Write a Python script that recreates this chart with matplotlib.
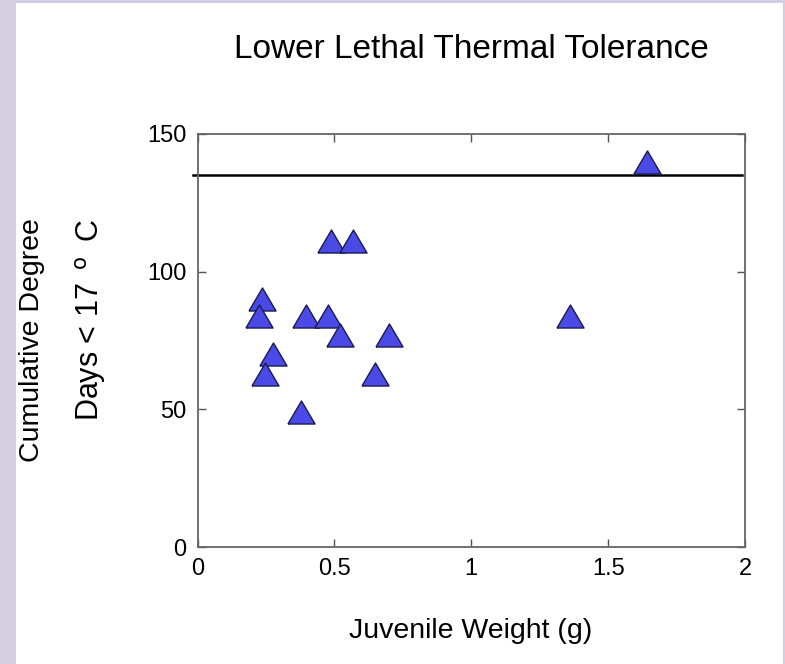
import matplotlib.pyplot as plt
from matplotlib.patches import Rectangle

plt.rcParams['font.family'] = ['Liberation Sans', 'DejaVu Sans']

# juvenile weight (g) and cumulative degree days below 17 C
weight = [0.488, 0.568, 0.237, 0.226, 0.397, 0.477, 0.519, 0.700,
          0.277, 0.248, 0.650, 0.377, 1.361, 1.641]
degree_days = [111, 111, 90, 84, 84, 84, 77, 77,
               70, 63, 63, 49, 84, 140]
threshold = 135

x_ticks = [0, 0.5, 1, 1.5, 2]
x_labels = ['0', '0.5', '1', '1.5', '2']
y_ticks = [0, 50, 100, 150]

W, H = 785, 664
fig = plt.figure(figsize=(W / 100, H / 100), dpi=100)
fig.patch.set_facecolor('#d5cde2')
# white slide panel behind everything
fig.patches.append(Rectangle((16 / W, 0), (783 - 16) / W, (H - 3) / H,
                             transform=fig.transFigure, facecolor='white',
                             edgecolor='none', zorder=-10))

ax = fig.add_axes([197.5 / W, 1 - 547 / H, 547.5 / W, 413 / H])
ax.set_facecolor('white')

# slightly flattened triangle like the matlab marker
tri = [(-1, -0.85), (1, -0.85), (0, 0.85), (-1, -0.85)]

ax.plot([-0.015, 1.99], [threshold, threshold], color='black', lw=1.8,
        clip_on=False, zorder=2)
ax.plot(weight, degree_days, linestyle='none', marker=tri, markersize=19.5,
        markerfacecolor='#4a4ae6', markeredgecolor='#1a1a50',
        markeredgewidth=1.0, zorder=3)

ax.set_xlim(0, 2)
ax.set_ylim(0, 150)
ax.set_xticks(x_ticks)
ax.set_xticklabels(x_labels)
ax.set_yticks(y_ticks)
ax.tick_params(direction='in', length=6, width=1, color='#555555',
               top=True, right=True, labelsize=17, pad=8)
for s in ax.spines.values():
    s.set_color('#666666')
    s.set_linewidth(1.3)

fig.text(471 / W, 1 - 50 / H, 'Lower Lethal Thermal Tolerance',
         ha='center', va='center', fontsize=24)
fig.text(471 / W, 1 - 631 / H, 'Juvenile Weight (g)', ha='center',
         va='center', fontsize=20.5)
fig.text(32 / W, 1 - 218 / H, 'Cumulative Degree', rotation=90,
         ha='center', va='top', fontsize=20.5)
fig.text(91 / W, 1 - 219 / H, r'Days < 17 $\,^{\mathrm{o}}\,$ C', rotation=90,
         ha='center', va='top', fontsize=22)

plt.savefig('out.png', dpi=100, facecolor=fig.get_facecolor())
